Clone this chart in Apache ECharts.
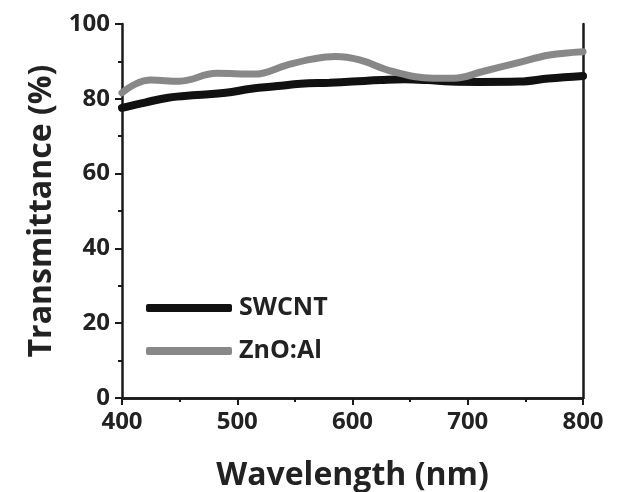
<!DOCTYPE html>
<html><head><meta charset="utf-8">
<script src="https://cdn.jsdelivr.net/npm/echarts@6/dist/echarts.min.js"></script>
<style>html,body{margin:0;padding:0;background:#fff}#c{width:625px;height:492px}</style>
</head><body><div id="c"></div>
<script>
const swcntWl = [400, 420, 440, 465, 490, 512, 535, 555, 580, 600, 625, 645, 665, 685, 710, 745, 770, 800];
const swcntT  = [77.6, 79.0, 80.3, 81.0, 81.6, 82.7, 83.4, 84.0, 84.3, 84.6, 85.0, 85.2, 85.0, 84.6, 84.5, 84.6, 85.4, 86.1];
const znoWl = [400, 412, 425, 450, 482, 515, 543, 565, 585, 606, 635, 670, 688, 713, 743, 771, 800];
const znoT  = [81.6, 84.0, 85.0, 84.7, 86.8, 86.6, 89.0, 90.6, 91.3, 90.4, 87.3, 85.5, 85.5, 87.3, 89.6, 91.7, 92.6];
const xTicks = [400, 500, 600, 700, 800];
const yTicks = [0, 20, 40, 60, 80, 100];

const chart = echarts.init(document.getElementById('c'));
const font = 'Open Sans';
const axisColor = '#1a1a1a';
chart.setOption({
  animation: false,
  backgroundColor: '#ffffff',
  grid: {left: 122, right: 42, top: 24, bottom: 94, containLabel: false, outerBoundsMode: 'none'},
  legend: {
    orient: 'vertical', left: 141, top: 290, itemGap: 17,
    itemWidth: 86, itemHeight: 8, icon: 'roundRect',
    textStyle: {fontFamily: font, fontWeight: 'bold', fontSize: 25, lineHeight: 26, color: '#222', padding: [0,0,0,2]},
    data: ['SWCNT', 'ZnO:Al']
  },
  xAxis: [{
    type: 'value', min: xTicks[0], max: xTicks[xTicks.length-1], interval: 100,
    name: 'Wavelength (nm)', nameLocation: 'middle', nameGap: 62,
    nameTextStyle: {fontFamily: font, fontWeight: 'bold', fontSize: 32, color: '#222'},
    axisLine: {show: true, lineStyle: {color: axisColor, width: 2.5}},
    axisTick: {show: true, length: 7, lineStyle: {color: axisColor, width: 2}},
    minorTick: {show: true, splitNumber: 2, length: 4, lineStyle: {color: axisColor, width: 2}},
    splitLine: {show: false},
    axisLabel: {fontFamily: font, fontWeight: 'bold', fontSize: 24, color: '#222', margin: 12}
  }, {
    type: 'value', position: 'top', min: 400, max: 800,
    axisLine: {show: true, lineStyle: {color: axisColor, width: 2.5}},
    axisTick: {show: false}, axisLabel: {show: false}, splitLine: {show: false}
  }],
  yAxis: [{
    type: 'value', min: yTicks[0], max: yTicks[yTicks.length-1], interval: 20,
    name: 'Transmittance (%)', nameLocation: 'middle', nameGap: 63,
    nameTextStyle: {fontFamily: font, fontWeight: 'bold', fontSize: 32, color: '#222'},
    axisLine: {show: true, lineStyle: {color: axisColor, width: 2.5}},
    axisTick: {show: true, length: 7, lineStyle: {color: axisColor, width: 2}},
    minorTick: {show: true, splitNumber: 2, length: 4, lineStyle: {color: axisColor, width: 2}},
    splitLine: {show: false},
    axisLabel: {fontFamily: font, fontWeight: 'bold', fontSize: 24, color: '#222', margin: 12}
  }, {
    type: 'value', position: 'right', min: 0, max: 100,
    axisLine: {show: true, lineStyle: {color: axisColor, width: 2.5}},
    axisTick: {show: false}, axisLabel: {show: false}, splitLine: {show: false}
  }],
  series: [{
    name: 'SWCNT', type: 'line', smooth: 0.4, showSymbol: false,
    data: swcntWl.map((w, i) => [w, swcntT[i]]),
    itemStyle: {color: '#111'},
    lineStyle: {color: '#111', width: 8, cap: 'round'}, z: 2
  }, {
    name: 'ZnO:Al', type: 'line', smooth: 0.4, showSymbol: false,
    data: znoWl.map((w, i) => [w, znoT[i]]),
    itemStyle: {color: '#888'},
    lineStyle: {color: '#888', width: 7, cap: 'round'}, z: 3
  }]
});
</script></body></html>
